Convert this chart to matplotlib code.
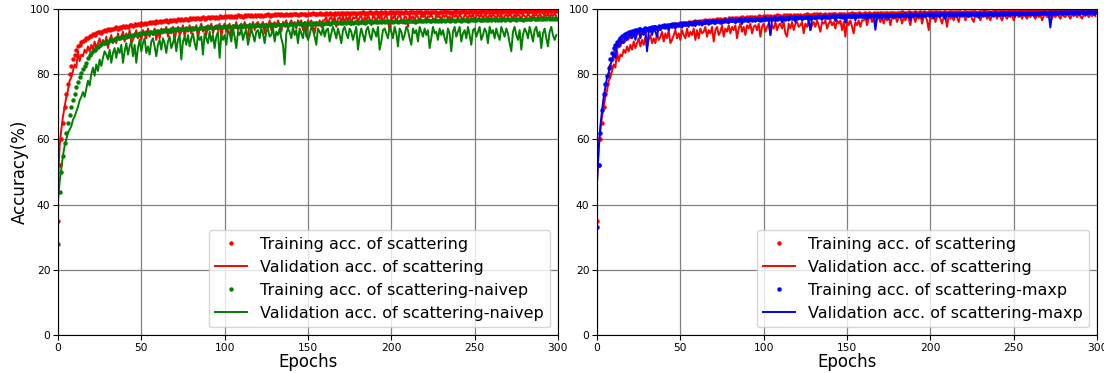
import matplotlib.pyplot as plt
import numpy as np

# accuracy per epoch (%)
scat_train = [
    35, 52, 60, 65, 70, 74, 77, 80, 82.5, 84.5, 86, 87.5, 88.5, 89, 89.8, 90.2, 90.5, 91, 91.2, 91.6,
    91.8, 92.3, 92.1, 92.6, 92.9, 93, 92.7, 93.3, 93.5, 93.2, 93.8, 93.6, 94, 93.7, 94.2, 94.4, 94, 94.5, 94.3, 94.7,
    94.6, 94.9, 94.5, 95, 95.2, 94.8, 95.3, 95.1, 95.5, 95.2, 95.6, 95.4, 95.8, 95.3, 95.7, 96, 95.6, 96.1, 95.8, 96.2,
    96, 96.3, 95.9, 96.4, 96.2, 96.5, 96.1, 96.6, 96.3, 96.5, 96.7, 96.3, 96.8, 96.5, 96.9, 96.6, 96.8, 97, 96.6, 97.1,
    96.9, 97.2, 96.8, 97.1, 97.3, 96.9, 97.2, 97.4, 97, 97.3, 97.5, 97.1, 97.4, 97.6, 97.2, 97.5, 97.3, 97.7, 97.4, 97.6,
    97.8, 97.4, 97.7, 97.5, 97.9, 97.6, 97.8, 97.5, 98, 97.7, 97.9, 97.6, 98, 97.8, 98.1, 97.7, 98, 97.9, 98.1, 97.8,
    98.2, 97.9, 98.1, 97.8, 98.2, 98, 98.3, 97.9, 98.2, 98.1, 98.3, 98, 98.4, 98.1, 98.3, 98.2, 98, 98.4, 98.2, 98.5,
    98.1, 98.4, 98.3, 98.5, 98.2, 98.4, 98.6, 98.3, 98.5, 98.2, 98.6, 98.4, 98.5, 98.7, 98.3, 98.6, 98.4, 98.7, 98.5, 98.6,
    98.4, 98.7, 98.5, 98.8, 98.6, 98.4, 98.7, 98.6, 98.8, 98.5, 98.7, 98.9, 98.6, 98.8, 98.7, 98.5, 98.9, 98.7, 98.8, 98.6,
    98.9, 98.7, 98.8, 99, 98.6, 98.9, 98.8, 99, 98.7, 98.9, 98.8, 99.1, 98.7, 98.9, 99, 98.8, 99.1, 98.9, 98.8, 99.1,
    98.9, 99, 98.8, 99.1, 99, 98.9, 99.2, 98.9, 99.1, 99, 98.8, 99.2, 99, 99.1, 98.9, 99.2, 99.1, 99, 99.2, 98.9,
    99.1, 99, 99.2, 98.9, 99.1, 99, 99.2, 99.1, 98.9, 99.2, 99, 99.1, 99.3, 99, 99.2, 99.1, 98.9, 99.2, 99.1, 99.3,
    99, 99.2, 99.1, 99.3, 99, 99.2, 99.1, 99.3, 99.2, 99, 99.3, 99.1, 99.2, 99.4, 99.1, 99.3, 99.2, 99, 99.3, 99.2,
    99.4, 99.1, 99.3, 99.2, 99.4, 99.1, 99.3, 99.2, 99.4, 99.3, 99.1, 99.4, 99.2, 99.3, 99.5, 99.2, 99.4, 99.3, 99.1, 99.4,
    99.3, 99.5, 99.2, 99.4, 99.3, 99.5, 99.2, 99.4, 99.3, 99.5, 99.4, 99.2, 99.5, 99.3, 99.4, 99.5, 99.3, 99.5, 99.4, 99.5,
]
scat_val = [
    47, 58, 63, 67, 70, 73, 75, 78, 79, 81, 83, 82, 87, 84, 86, 85.5, 87.5, 86.5, 88.5, 87,
    89, 87.5, 90, 88, 89.5, 91, 88.5, 90.5, 89, 91.5, 88, 90.5, 92, 89.5, 91, 89.5, 92.5, 90.5, 91.5, 93,
    90, 92.5, 91, 93.5, 89.5, 90.5, 92, 93.5, 91, 92.5, 90.5, 93.5, 92, 91, 94, 91.5, 93, 92, 94, 90.5,
    93.5, 91, 94, 92.5, 93, 94.5, 91.5, 93.5, 92.5, 94.5, 90, 93.5, 94.5, 92, 93, 95, 91.5, 94, 93, 95,
    92.5, 94.5, 93.5, 95, 91, 94, 95.5, 93, 94.5, 92, 95, 94, 95.5, 92.5, 94.5, 95, 93.5, 95.5, 91.5, 94.5,
    95.5, 93, 94.5, 95.5, 92, 95, 94, 96, 93.5, 95, 95.5, 94, 96, 92.5, 91.5, 95.5, 94, 96, 93.5, 95.5,
    96, 94.5, 95, 96, 92.5, 95.5, 94.5, 96.5, 93.5, 95, 96, 94.5, 96.5, 95, 93, 96, 95.5, 96.5, 94, 95.5,
    96.5, 95, 96, 94, 96.5, 95.5, 96.5, 93.5, 96, 91.5, 96.5, 95, 96.5, 94.5, 92.5, 96, 95, 96.5, 94.5, 96.5,
    96.5, 97.5, 95, 97, 97.5, 96, 97.8, 94.5, 97, 97.5, 96, 97.8, 95.5, 97.5, 96.5, 97.8, 95, 97.5, 97, 97.8,
    96, 97.5, 97.8, 95.5, 97.5, 96.5, 98, 97, 95, 98, 97.5, 96, 98, 97, 98.2, 95.5, 97.5, 98, 96.5, 93.5,
    97.8, 97, 98.2, 96, 97.5, 98.2, 97, 95.5, 97.8, 97.5, 94.5, 98.2, 97, 97.8, 96.5, 98.2, 97.5, 96, 98.2, 97.5,
    98.2, 96.5, 97.8, 97.5, 98.2, 97, 96, 98.2, 97.5, 97.8, 96.5, 98.2, 97.5, 98.2, 97, 97.8, 96.5, 98.2, 97.5, 98.2,
    97, 98.2, 97.5, 96.5, 98.2, 97.8, 97, 98.2, 97.5, 98.3, 96.5, 97.8, 98.3, 97.5, 98.3, 97, 98.3, 97.8, 97, 98.3,
    97.5, 98.3, 97.8, 97, 98.3, 97.5, 98.3, 96.5, 97.8, 98.3, 97.5, 98.4, 97.8, 97, 98.4, 97.5, 98.4, 97.8, 97, 98.4,
    97.8, 97.5, 98.4, 97.8, 97, 98.4, 97.8, 98.4, 97.5, 98.4, 97.8, 97, 98.4, 97.8, 98.5, 97.5, 98.4, 97.8, 98.5, 97.8,
]
naive_train = [
    28, 44, 50, 55, 59, 62, 65, 67.5, 70, 72, 74, 76, 77.5, 79, 80.5, 81.5, 82.5, 83.5, 85, 86,
    86.5, 87, 87.5, 88, 88.4, 88.8, 89.1, 89.5, 89.7, 90.2, 90, 90.4, 90.6, 90.5, 90.9, 91, 91.2, 91, 91.4, 91.5,
    91.6, 91.4, 91.8, 92, 91.7, 92.1, 92.2, 92, 92.4, 92.5, 92.3, 92.6, 92.5, 92.8, 92.6, 92.9, 93, 92.7, 93.1, 93,
    93.2, 93, 93.3, 93.4, 93.1, 93.5, 93.6, 93.3, 93.7, 93.5, 93.8, 93.6, 93.9, 93.7, 93.8, 94, 93.7, 94.1, 93.9, 94,
    94.2, 93.9, 94.1, 94.3, 94, 94.2, 94.4, 94.1, 94.3, 94.5, 94.2, 94.4, 94.6, 94.3, 94.5, 94.4, 94.7, 94.4, 94.6, 94.5,
    94.7, 94.5, 94.8, 94.6, 94.5, 94.8, 94.7, 94.9, 94.6, 94.8, 94.9, 94.7, 95, 94.8, 94.9, 95.1, 94.8, 95, 94.9, 95.1,
    95, 94.8, 95.2, 95, 95.1, 94.9, 95.2, 95.1, 95.3, 95, 95.2, 95.1, 95.3, 95.2, 95, 95.4, 95.2, 95.3, 95.1, 95.4,
    95.3, 95.5, 95.2, 95.4, 95.6, 95.3, 95.5, 95.4, 95.6, 95.3, 95.5, 95.7, 95.4, 95.6, 95.5, 95.7, 95.4, 95.6, 95.8, 95.5,
    95.7, 95.6, 95.8, 95.5, 95.7, 95.9, 95.6, 95.8, 95.7, 95.9, 95.6, 95.8, 96, 95.7, 95.9, 95.8, 96, 95.7, 95.9, 96.1,
    95.8, 96, 95.9, 96.1, 95.8, 96, 96.2, 95.9, 96.1, 96, 96.2, 95.9, 96.1, 96.3, 96, 96.2, 96.1, 96.3, 96, 96.2,
    96.3, 96.1, 96.3, 96.2, 96, 96.3, 96.2, 96.4, 96.1, 96.3, 96.4, 96.2, 96.4, 96.3, 96.1, 96.4, 96.3, 96.5, 96.2, 96.4,
    96.5, 96.3, 96.5, 96.4, 96.2, 96.5, 96.4, 96.6, 96.3, 96.5, 96.4, 96.6, 96.3, 96.5, 96.6, 96.4, 96.6, 96.5, 96.3, 96.6,
    96.5, 96.7, 96.4, 96.6, 96.5, 96.7, 96.4, 96.6, 96.8, 96.5, 96.7, 96.6, 96.8, 96.5, 96.7, 96.6, 96.8, 96.5, 96.7, 96.9,
    96.6, 96.8, 96.7, 96.9, 96.6, 96.8, 96.7, 96.9, 96.6, 96.8, 97, 96.7, 96.9, 96.8, 97, 96.7, 96.9, 96.8, 97, 96.7,
    96.9, 97, 96.8, 97, 96.9, 97.1, 96.8, 97, 96.9, 97.1, 96.8, 97, 97.1, 96.9, 97.1, 97, 97.2, 96.9, 97.1, 97,
]
naive_val = [
    41, 47, 51, 55, 58, 60, 62, 63, 64, 66, 67, 68.5, 70, 72, 73, 74.5, 73, 75.5, 78, 76.5,
    80, 82, 79.5, 83, 81, 84.5, 82.5, 85, 87, 86, 84.5, 87.5, 83.5, 86.5, 88, 85, 88, 86.5, 89, 83.5,
    87, 89.5, 86, 88.5, 90, 85.5, 89, 83.5, 88, 90.5, 87, 89.5, 91, 86.5, 88.5, 86, 90, 91, 88.5, 85.5,
    89, 90.5, 87.5, 91, 89.5, 86.5, 90, 91.5, 88, 89.5, 91.5, 87, 90.5, 92, 84.5, 90, 91.5, 89, 92, 88.5,
    91, 92.5, 89.5, 87.5, 92, 90.5, 91.5, 86, 92.5, 91, 89.5, 93, 90, 92, 88, 91.5, 93, 85, 92, 90.5,
    92, 89, 93.5, 92.5, 90, 94, 91.5, 88, 93, 92, 94, 90.5, 92.5, 93.5, 89, 91.5, 94, 92, 90, 93,
    93.5, 91, 94, 92.5, 89.5, 93, 94, 91.5, 92, 94.5, 90, 93, 92, 94, 91, 89, 83, 92.5, 94, 93,
    91, 94.5, 92, 93.5, 89.5, 94, 92.5, 91, 94.5, 93, 90.5, 92, 94.5, 93.5, 91.5, 89, 94, 93, 92, 94.5,
    91.5, 93.5, 94, 90, 92.5, 94.5, 93, 91, 94, 92, 89.5, 93.5, 94.5, 92.5, 91, 94, 93, 90.5, 92.5, 94.5,
    87.5, 91.5, 94, 92, 90, 93.5, 94.5, 92, 90.5, 94, 93, 91.5, 94.5, 87.5, 90, 93.5, 94, 92.5, 91, 94.5,
    93, 91, 94.5, 92.5, 88.5, 94, 93, 90.5, 92, 94.5, 93.5, 91, 89, 94, 92.5, 93.5, 90, 94.5, 93, 91.5,
    94, 92, 93.5, 88, 91, 94.5, 92.5, 93, 90.5, 94, 92, 93.5, 91, 89.5, 94, 92.5, 87, 93, 94.5, 91.5,
    93, 94.5, 90, 92.5, 93.5, 91, 94.5, 92, 89, 93.5, 94, 91.5, 93, 94.5, 90.5, 92, 94, 93, 89.5, 94.5,
    92.5, 93.5, 91, 94, 92, 90.5, 94.5, 93, 91.5, 94, 92.5, 89.5, 87, 93, 94.5, 92, 90.5, 93.5, 87.5, 92,
    94, 93, 91, 94.5, 92.5, 90, 93.5, 94.5, 91.5, 93, 88, 92.5, 94, 91, 88.5, 93, 94.5, 92, 90.5, 92,
]
maxp_train = [
    33, 52, 62, 69, 74, 77, 79.5, 82, 84.5, 86.5, 88, 89, 90, 90.6, 91.2, 91.6, 92, 92.3, 92.5, 92.8,
    93, 93.2, 93.1, 93.5, 93.4, 93.7, 93.9, 93.6, 94, 94.2, 93.9, 94.3, 94.1, 94.5, 94.4, 94.6, 94.3, 94.7, 94.6, 94.9,
    95, 94.8, 95.1, 94.9, 95.2, 95.3, 95, 95.4, 95.2, 95.5, 95.3, 95.6, 95.4, 95.7, 95.5, 95.6, 95.8, 95.5, 95.9, 95.7,
    95.9, 95.7, 96, 95.8, 96.1, 95.9, 96.2, 96, 96.1, 96.3, 96, 96.3, 96.2, 96.4, 96.1, 96.4, 96.3, 96.5, 96.2, 96.5,
    96.5, 96.7, 96.6, 96.4, 96.7, 96.6, 96.8, 96.7, 96.5, 96.8, 96.7, 96.9, 96.8, 96.6, 96.9, 96.8, 97, 96.9, 96.7, 97,
    96.9, 97.1, 97, 96.8, 97.1, 97, 97.2, 97.1, 96.9, 97.2, 97.1, 97.3, 97.2, 97, 97.3, 97.2, 97.4, 97.3, 97.1, 97.4,
    97.3, 97.5, 97.4, 97.2, 97.5, 97.4, 97.6, 97.5, 97.3, 97.6, 97.5, 97.6, 97.4, 97.7, 97.6, 97.5, 97.7, 97.6, 97.4, 97.7,
    97.6, 97.8, 97.7, 97.5, 97.8, 97.7, 97.9, 97.8, 97.6, 97.9, 97.8, 97.7, 97.9, 97.8, 98, 97.7, 97.9, 97.8, 98, 97.9,
    97.7, 98, 97.9, 98.1, 97.8, 98, 97.9, 98.1, 98, 97.8, 98.1, 98, 98.2, 97.9, 98.1, 98, 98.2, 98.1, 97.9, 98.2,
    98.1, 98, 98.2, 98.1, 98.3, 98, 98.2, 98.1, 98.3, 98.2, 98, 98.3, 98.2, 98.1, 98.3, 98.2, 98.4, 98.1, 98.3, 98.2,
    98.4, 98.3, 98.1, 98.4, 98.3, 98.2, 98.4, 98.3, 98.5, 98.2, 98.4, 98.3, 98.5, 98.4, 98.2, 98.5, 98.4, 98.3, 98.5, 98.4,
    98.6, 98.3, 98.5, 98.4, 98.6, 98.5, 98.3, 98.6, 98.5, 98.4, 98.6, 98.5, 98.7, 98.4, 98.6, 98.5, 98.7, 98.6, 98.4, 98.7,
    98.6, 98.5, 98.7, 98.6, 98.8, 98.5, 98.7, 98.6, 98.8, 98.7, 98.5, 98.8, 98.7, 98.6, 98.8, 98.7, 98.9, 98.6, 98.8, 98.7,
    98.9, 98.8, 98.6, 98.9, 98.8, 98.7, 98.9, 98.8, 99, 98.7, 98.9, 98.8, 99, 98.9, 98.7, 99, 98.9, 98.8, 99, 98.9,
    99.1, 98.8, 99, 98.9, 99.1, 99, 98.8, 99.1, 99, 98.9, 99.1, 99, 99.2, 98.9, 99.1, 99, 99.2, 99.1, 98.9, 99.2,
]
maxp_val = [
    47, 57, 64, 69, 73, 76, 79, 80.5, 83, 84, 86.5, 85, 89, 88.5, 89, 90, 89.5, 92, 90.5, 91.5,
    92.5, 91, 93, 90.5, 92.5, 93.5, 91, 93, 92, 94, 87, 93, 94, 92, 94, 93, 91.5, 94.5, 93.5, 94.5,
    94.6, 94, 94.8, 93.5, 95, 94.3, 95.1, 93.9, 95.2, 94.6, 95.3, 94.2, 95.4, 94.8, 95.5, 94.5, 95.6, 95, 95.5, 94.7,
    95.7, 95.2, 95.8, 94.9, 95.9, 95.4, 96, 95.1, 96, 95.6, 96.1, 95.3, 96.2, 95.8, 96.1, 95.5, 96.3, 95.9, 96.4, 95.6,
    96.4, 96, 96.5, 95.7, 96.5, 96.1, 96.6, 95.4, 96.6, 96.2, 96.7, 95.9, 96.7, 96.3, 96.8, 96, 96.8, 96.4, 96.9, 96.1,
    96.9, 96.3, 97, 96.5, 92, 96.8, 97.1, 96.2, 97, 96.6, 97.2, 95.8, 97.1, 96.7, 97.3, 96.4, 97.2, 96.8, 97.3, 96,
    97.4, 96.9, 97.3, 96.5, 97.5, 97, 97.4, 96.2, 93.5, 97.1, 97.5, 96.8, 97.6, 97.2, 97.5, 96.6, 97.7, 97.3, 97.6, 96.9,
    97.8, 97.4, 97.7, 96.3, 97.8, 97.5, 97.9, 97, 97.8, 95.8, 97.9, 97.6, 98, 97.1, 97.9, 96.5, 98, 97.7, 98.1, 97.3,
    98, 97.8, 96.8, 98.1, 97.5, 98.2, 97.9, 93.6, 98.1, 97.6, 98.2, 97, 98.3, 97.9, 98.2, 96.9, 98.3, 98, 98.2, 97.5,
    98.4, 98.1, 97.2, 98.3, 98, 98.4, 97.7, 98.3, 96.6, 98.4, 98.1, 98.5, 97.8, 98.4, 98.2, 97.3, 98.5, 98.1, 98.4, 97.9,
    98.5, 98.2, 97.1, 98.5, 98.3, 98.6, 97.9, 98.5, 98.2, 96.8, 98.6, 98.3, 98.5, 98, 98.6, 98.4, 97.5, 98.6, 98.3, 98.7,
    98.1, 98.6, 98.4, 97.6, 98.7, 98.4, 98.6, 98.2, 98.7, 97.3, 98.6, 98.5, 98.7, 98.1, 98.6, 98.4, 98.8, 97.8, 98.7, 98.5,
    98.7, 98.3, 98.8, 97.9, 98.7, 98.5, 98.8, 98.2, 98.7, 98.6, 98.9, 98, 98.8, 98.5, 98.9, 98.3, 98.8, 98.6, 98.9, 98.1,
    98.8, 98.6, 98.9, 98.4, 98.8, 98.7, 98.9, 98.2, 98.8, 98.6, 98.9, 98.3, 94.3, 98.8, 98.6, 98.9, 98.5, 98.8, 98.7, 99,
    98.4, 98.8, 98.7, 99, 98.6, 98.8, 98.5, 99, 98.7, 98.9, 98.3, 98.8, 98.7, 99, 98.6, 98.9, 98.8, 99, 98.5, 98.9,
]

panels = [
    (naive_train, naive_val, 'green', 'scattering-naivep'),
    (maxp_train, maxp_val, 'blue', 'scattering-maxp'),
]

fig = plt.figure(figsize=(11.04, 3.73), dpi=100)
axes = [fig.add_axes([0.0525, 0.102, 0.4529, 0.874]),
        fig.add_axes([0.5408, 0.102, 0.4529, 0.874])]

for ax, (tr, va, col, name) in zip(axes, panels):
    ax.plot(np.arange(len(scat_train)), scat_train, 'o', color='red', ms=2.2,
            label='Training acc. of scattering')
    ax.plot(np.arange(len(scat_val)), scat_val, '-', color='red', lw=1.4,
            label='Validation acc. of scattering')
    ax.plot(np.arange(len(tr)), tr, 'o', color=col, ms=2.2,
            label='Training acc. of ' + name)
    ax.plot(np.arange(len(va)), va, '-', color=col, lw=1.4,
            label='Validation acc. of ' + name)
    ax.set_xlim(0, 300)
    ax.set_ylim(0, 100)
    ax.set_xticks(range(0, 301, 50))
    ax.set_yticks(range(0, 101, 20))
    ax.tick_params(labelsize=7.7, pad=2)
    ax.grid(True, color='gray', lw=0.9)
    ax.set_axisbelow(True)
    ax.set_xlabel('Epochs', fontsize=12, labelpad=0.5)
    ax.legend(loc='lower right', fontsize=11.5, markerscale=1.0)

axes[0].set_ylabel('Accuracy(%)', fontsize=12, labelpad=1)

plt.savefig('out.png', dpi=100)
